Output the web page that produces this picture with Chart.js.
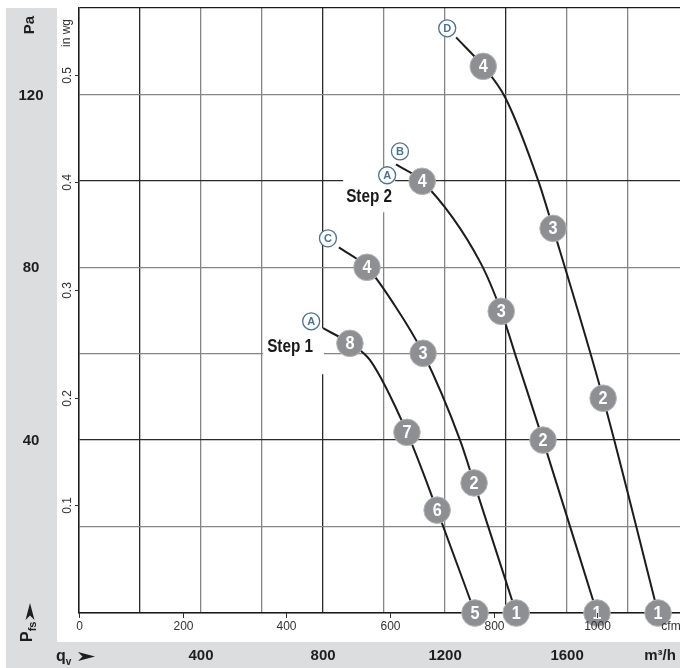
<!DOCTYPE html>
<html><head><meta charset="utf-8">
<script src="https://cdn.jsdelivr.net/npm/chart.js@4.4.1/dist/chart.umd.min.js"></script>
<style>html,body{margin:0;padding:0;background:#fff;}#wrap{width:680px;height:668px;position:relative}</style>
</head><body><div id="wrap"><canvas id="c" width="680" height="668"></canvas></div>
<script>
// ---- data (m³/h, Pa) ----
const curve1Flow = [800, 888, 954, 1075, 1174, 1298];
const curve1Pressure = [65.9, 62.4, 58.5, 41.8, 23.8, 0];
const curve1Marks = ['', '8', '', '7', '6', '5'];

const curve2Flow = [852, 944, 1030, 1128, 1249, 1295, 1433];
const curve2Pressure = [84.6, 80.0, 71.7, 60.1, 40.0, 30.1, 0];
const curve2Marks = ['', '4', '', '3', '', '2', '1'];

const curve3Flow = [1039, 1125, 1315, 1384, 1436, 1521, 1698];
const curve3Pressure = [103.8, 99.9, 81.2, 69.8, 58.5, 40.0, 0];
const curve3Marks = ['', '4', '', '3', '', '2', '1'];

const curve4Flow = [1236, 1325, 1397, 1505, 1554, 1718, 1898];
const curve4Pressure = [133.2, 126.5, 119.3, 100.1, 89.0, 49.7, 0];
const curve4Marks = ['', '4', '', '', '3', '2', '1'];

const badgeLetters = ['A', 'C', 'B', 'A', 'D'];
const badgeFlow = [761, 816, 1052, 1010, 1207];
const badgePressure = [67.5, 86.7, 106.8, 101.3, 135.3];

const stepLabels = ['Step 1', 'Step 2'];
const stepFlow = [692, 951];
const stepPressure = [61.5, 96.2];

const flowGridTicks = [0, 200, 400, 600, 800, 1000, 1200, 1400, 1600, 1800];
const pressureGridTicks = [0, 20, 40, 60, 80, 100, 120, 140];
const flowBandTicks = [400, 800, 1200, 1600];
const pressureBandTicks = [40, 80, 120];
const cfmTicks = [0, 200, 400, 600, 800, 1000];
const inwgTicks = [0.1, 0.2, 0.3, 0.4, 0.5];

// white label-box styling (pixels around text: left, right, up, down)
const stepBoxPad = [[4, 11, 19, 27], [3, 3, 29, 15]];

const FLOW_MAX = 1970, PA_MAX = 140;
const M3H_PER_CFM = 1.69901, PA_PER_INWG = 249.089;

function pts(xs, ys) { return xs.map((x, i) => ({x: x, y: ys[i]})); }

const FONT = '"Liberation Sans", Arial, sans-serif';
const curveStyle = {showLine: true, pointRadius: 0, borderColor: '#1c1c1c', borderWidth: 2,
  cubicInterpolationMode: 'monotone', fill: false, clip: false};

const datasets = [
  Object.assign({label: 'c1', data: pts(curve1Flow, curve1Pressure), marks: curve1Marks}, curveStyle),
  Object.assign({label: 'c2', data: pts(curve2Flow, curve2Pressure), marks: curve2Marks}, curveStyle),
  Object.assign({label: 'c3', data: pts(curve3Flow, curve3Pressure), marks: curve3Marks}, curveStyle),
  Object.assign({label: 'c4', data: pts(curve4Flow, curve4Pressure), marks: curve4Marks}, curveStyle),
  {label: 'badges', data: pts(badgeFlow, badgePressure), showLine: false, pointRadius: 0, badges: badgeLetters}
];

function gridX(c) {
  return (c.index % 3 === 1) ? '#2a2a2a' : '#858585';
}
function gridY(c) {
  const v = c.tick.value;
  if (v >= PA_MAX) return '#1a1a1a';
  return (c.index % 3 === 2) ? '#2a2a2a' : '#858585';
}

function arrowUp(ctx, x, yTip) {
  ctx.beginPath();
  ctx.moveTo(x, yTip); ctx.lineTo(x + 4.5, yTip + 17); ctx.lineTo(x, yTip + 12.5); ctx.lineTo(x - 4.5, yTip + 17);
  ctx.closePath(); ctx.fill();
}
function arrowRight(ctx, xTip, y) {
  ctx.beginPath();
  ctx.moveTo(xTip, y); ctx.lineTo(xTip - 17, y - 4.5); ctx.lineTo(xTip - 12.5, y); ctx.lineTo(xTip - 17, y + 4.5);
  ctx.closePath(); ctx.fill();
}

const decor = {
  id: 'decor',
  beforeDraw(chart) {
    const ctx = chart.ctx;
    ctx.save();
    ctx.fillStyle = '#ffffff'; ctx.fillRect(0, 0, 680, 668);
    ctx.fillStyle = '#dcdddf';
    ctx.fillRect(6, 8, 51, 660);
    ctx.fillRect(6, 642, 674, 26);
    ctx.restore();
  },
  beforeDatasetsDraw(chart) {
    const ctx = chart.ctx, xs = chart.scales.x, ys = chart.scales.y;
    ctx.save();
    ctx.font = 'bold 18px ' + FONT;
    stepLabels.forEach((t, i) => {
      const px = xs.getPixelForValue(stepFlow[i]), py = ys.getPixelForValue(stepPressure[i]);
      const w = ctx.measureText(t).width * 0.85;
      const p = stepBoxPad[i];
      ctx.fillStyle = '#ffffff';
      ctx.fillRect(px - w / 2 - p[0], py - p[2], w + p[0] + p[1], p[2] + p[3]);
    });
    ctx.restore();
  },
  afterDatasetsDraw(chart) {
    const ctx = chart.ctx, xs = chart.scales.x, ys = chart.scales.y;
    const xc = chart.scales.xc, yw = chart.scales.yw;
    const area = chart.chartArea;
    ctx.save();
    // numbered markers
    chart.data.datasets.forEach((ds, di) => {
      const meta = chart.getDatasetMeta(di);
      if (ds.marks) {
        meta.data.forEach((el, i) => {
          const m = ds.marks[i];
          if (!m) return;
          ctx.beginPath(); ctx.arc(el.x, el.y, 13.3, 0, Math.PI * 2);
          ctx.fillStyle = '#8e8f92'; ctx.fill();
          ctx.lineWidth = 1; ctx.strokeStyle = '#b4b5b7'; ctx.stroke();
          ctx.fillStyle = '#ffffff'; ctx.font = 'bold 18px ' + FONT;
          ctx.textAlign = 'center'; ctx.textBaseline = 'middle';
          ctx.save(); ctx.translate(el.x, el.y + 1); ctx.scale(0.9, 1);
          ctx.fillText(m, 0, 0); ctx.restore();
        });
      }
      if (ds.badges) {
        meta.data.forEach((el, i) => {
          ctx.beginPath(); ctx.arc(el.x, el.y, 8.5, 0, Math.PI * 2);
          ctx.fillStyle = '#ffffff'; ctx.fill();
          ctx.lineWidth = 1.3; ctx.strokeStyle = '#4d7393'; ctx.stroke();
          ctx.fillStyle = '#4d7393'; ctx.font = 'bold 11px ' + FONT;
          ctx.textAlign = 'center'; ctx.textBaseline = 'middle';
          ctx.fillText(ds.badges[i], el.x, el.y + 0.5);
        });
      }
    });
    // step labels
    ctx.fillStyle = '#1a1a1a'; ctx.font = 'bold 18px ' + FONT;
    ctx.textAlign = 'center'; ctx.textBaseline = 'middle';
    stepLabels.forEach((t, i) => {
      const px = xs.getPixelForValue(stepFlow[i]), py = ys.getPixelForValue(stepPressure[i]);
      ctx.save(); ctx.translate(px, py); ctx.scale(0.85, 1); ctx.fillText(t, 0, 0); ctx.restore();
    });

    // cfm ticks (inner bottom)
    ctx.strokeStyle = '#333'; ctx.lineWidth = 1;
    ctx.fillStyle = '#333'; ctx.font = '12px ' + FONT;
    ctx.textAlign = 'center'; ctx.textBaseline = 'middle';
    cfmTicks.forEach(v => {
      const px = Math.round(xc.getPixelForValue(v)) + 0.5;
      ctx.beginPath(); ctx.moveTo(px, area.bottom); ctx.lineTo(px, area.bottom + 5); ctx.stroke();
      ctx.fillText(String(v), px, area.bottom + 14);
    });
    ctx.fillText('cfm', 671, area.bottom + 14);

    // in wg ticks (inner left)
    inwgTicks.forEach(v => {
      const py = Math.round(yw.getPixelForValue(v)) + 0.5;
      ctx.beginPath(); ctx.moveTo(area.left - 4, py); ctx.lineTo(area.left, py); ctx.stroke();
      ctx.save(); ctx.translate(area.left - 11, py); ctx.rotate(-Math.PI / 2);
      ctx.fillText(v.toFixed(1), 0, 0); ctx.restore();
    });
    ctx.save(); ctx.translate(area.left - 12, 33); ctx.rotate(-Math.PI / 2);
    ctx.fillText('in wg', 0, 0); ctx.restore();

    // gray band labels
    ctx.fillStyle = '#1e1e1e'; ctx.font = 'bold 15px ' + FONT;
    pressureBandTicks.forEach(v => {
      ctx.fillText(String(v), 31, ys.getPixelForValue(v) + 1);
    });
    flowBandTicks.forEach(v => {
      ctx.fillText(String(v), xs.getPixelForValue(v), 656);
    });
    ctx.fillText('m³/h', 660, 656);
    ctx.save(); ctx.translate(30, 25); ctx.rotate(-Math.PI / 2);
    ctx.fillText('Pa', 0, 0); ctx.restore();

    // P_fs with arrow
    arrowUp(ctx, 30, 603);
    ctx.save(); ctx.translate(32, 642); ctx.rotate(-Math.PI / 2);
    ctx.textAlign = 'left'; ctx.textBaseline = 'alphabetic';
    ctx.font = 'bold 16px ' + FONT; ctx.fillText('P', 0, 0);
    const pw = ctx.measureText('P').width;
    ctx.font = 'bold 11px ' + FONT; ctx.fillText('fs', pw, 4);
    ctx.restore();

    // q_v with arrow
    ctx.textAlign = 'left'; ctx.textBaseline = 'alphabetic';
    ctx.font = 'bold 16px ' + FONT; ctx.fillText('q', 56, 661);
    const qw = ctx.measureText('q').width;
    ctx.font = 'bold 10px ' + FONT; ctx.fillText('v', 56 + qw, 665);
    arrowRight(ctx, 95, 656.5);
    ctx.restore();
  }
};

new Chart(document.getElementById('c'), {
  type: 'scatter',
  data: {datasets: datasets},
  options: {
    responsive: false, animation: false, devicePixelRatio: 1,
    layout: {padding: {left: 79, top: 8, right: 0, bottom: 55}},
    plugins: {legend: {display: false}, tooltip: {enabled: false}},
    scales: {
      x: {type: 'linear', position: 'bottom', min: 0, max: FLOW_MAX,
        afterBuildTicks: (s) => { s.ticks = flowGridTicks.map(v => ({value: v})); },
        ticks: {display: false},
        grid: {color: gridX, lineWidth: 1.3, drawTicks: false},
        border: {display: true, color: '#1a1a1a', width: 1.5}},
      y: {type: 'linear', position: 'left', min: 0, max: PA_MAX,
        afterBuildTicks: (s) => { s.ticks = pressureGridTicks.map(v => ({value: v})); },
        ticks: {display: false},
        grid: {color: gridY, lineWidth: 1.3, drawTicks: false},
        border: {display: true, color: '#1a1a1a', width: 1.5}},
      xc: {type: 'linear', display: false, min: 0, max: FLOW_MAX / M3H_PER_CFM},
      yw: {type: 'linear', display: false, min: 0, max: PA_MAX / PA_PER_INWG}
    }
  },
  plugins: [decor]
});
</script></body></html>
